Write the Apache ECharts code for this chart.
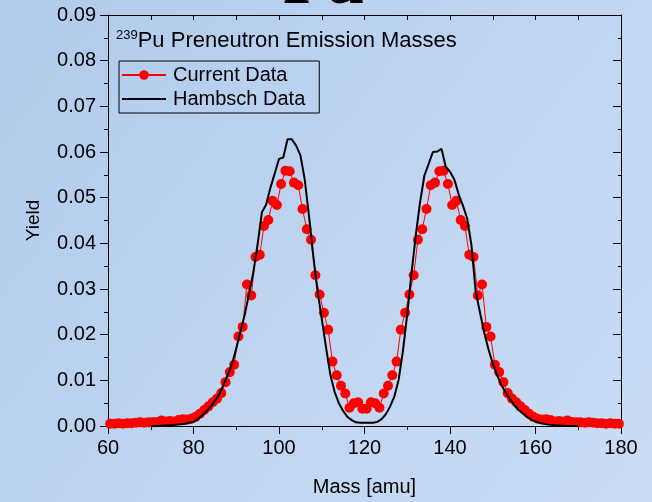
<!DOCTYPE html>
<html>
<head>
<meta charset="utf-8">
<script src="https://cdn.jsdelivr.net/npm/echarts@6/dist/echarts.min.js"></script>
<style>
  html, body { margin: 0; padding: 0; }
  #chart { width: 652px; height: 502px; }
</style>
</head>
<body>
<div id="chart"></div>
<script>
// Pre-neutron-emission fragment mass yields for 239Pu

// Current data: mass bin centres [amu]
const massCurrent = [
  60.5, 61.5, 62.5, 63.5, 64.5, 65.5, 66.5, 67.5, 68.5, 69.5,
  70.5, 71.5, 72.5, 73.5, 74.5, 75.5, 76.5, 77.5, 78.5, 79.5,
  80.5, 81.5, 82.5, 83.5, 84.5, 85.5, 86.5, 87.5, 88.5, 89.5,
  90.5, 91.5, 92.5, 93.5, 94.5, 95.5, 96.5, 97.5, 98.5, 99.5,
  100.5, 101.5, 102.5, 103.5, 104.5, 105.5, 106.5, 107.5, 108.5, 109.5,
  110.5, 111.5, 112.5, 113.5, 114.5, 115.5, 116.5, 117.5, 118.5, 119.5,
  120.5, 121.5, 122.5, 123.5, 124.5, 125.5, 126.5, 127.5, 128.5, 129.5,
  130.5, 131.5, 132.5, 133.5, 134.5, 135.5, 136.5, 137.5, 138.5, 139.5,
  140.5, 141.5, 142.5, 143.5, 144.5, 145.5, 146.5, 147.5, 148.5, 149.5,
  150.5, 151.5, 152.5, 153.5, 154.5, 155.5, 156.5, 157.5, 158.5, 159.5,
  160.5, 161.5, 162.5, 163.5, 164.5, 165.5, 166.5, 167.5, 168.5, 169.5,
  170.5, 171.5, 172.5, 173.5, 174.5, 175.5, 176.5, 177.5, 178.5, 179.5
];

// Current data: yields
const yieldCurrent = [
  0.0005, 0.0005, 0.0006, 0.0005, 0.0006, 0.0006, 0.0007, 0.0008, 0.0007, 0.0008,
  0.0008, 0.0009, 0.0012, 0.0010, 0.0011, 0.0010, 0.0013, 0.0015, 0.0014, 0.0016,
  0.0020, 0.0027, 0.0035, 0.0043, 0.0052, 0.0060, 0.0072, 0.0096, 0.0118, 0.0134,
  0.0196, 0.0217, 0.0310, 0.0286, 0.0370, 0.0375, 0.0438, 0.0451, 0.0493, 0.0484,
  0.0530, 0.0559, 0.0558, 0.0533, 0.0527, 0.0475, 0.0431, 0.0408, 0.0330, 0.0288,
  0.0248, 0.0211, 0.0141, 0.0111, 0.0088, 0.0071, 0.0040, 0.0050, 0.0052, 0.0038,
  0.0038, 0.0052, 0.0050, 0.0040, 0.0071, 0.0088, 0.0111, 0.0141, 0.0211, 0.0248,
  0.0288, 0.0330, 0.0408, 0.0431, 0.0475, 0.0527, 0.0533, 0.0558, 0.0559, 0.0530,
  0.0484, 0.0493, 0.0451, 0.0438, 0.0375, 0.0370, 0.0286, 0.0310, 0.0217, 0.0196,
  0.0134, 0.0118, 0.0096, 0.0072, 0.0060, 0.0052, 0.0043, 0.0035, 0.0027, 0.0020,
  0.0016, 0.0014, 0.0015, 0.0013, 0.0010, 0.0011, 0.0010, 0.0012, 0.0009, 0.0008,
  0.0008, 0.0007, 0.0008, 0.0007, 0.0006, 0.0006, 0.0005, 0.0006, 0.0005, 0.0005
];

// Hambsch data: masses [amu]
const massHambsch = [
  70, 71, 72, 73, 74, 75, 76, 77, 78, 79,
  80, 81, 82, 83, 84, 85, 86, 87, 88, 89,
  90, 91, 92, 93, 94, 95, 96, 97, 98, 99,
  100, 101, 102, 103, 104, 105, 106, 107, 108, 109,
  110, 111, 112, 113, 114, 115, 116, 117, 118, 119,
  120, 121, 122, 123, 124, 125, 126, 127, 128, 129,
  130, 131, 132, 133, 134, 135, 136, 137, 138, 139,
  140, 141, 142, 143, 144, 145, 146, 147, 148, 149,
  150, 151, 152, 153, 154, 155, 156, 157, 158, 159,
  160, 161, 162, 163, 164, 165, 166, 167, 168, 169,
  170
];

// Hambsch data: yields
const yieldHambsch = [
  0.0000, 0.0000, 0.0000, 0.0001, 0.0001, 0.0002, 0.0003, 0.0004, 0.0005, 0.0007,
  0.0009, 0.0015, 0.0023, 0.0032, 0.0042, 0.0055, 0.0069, 0.0090, 0.0112, 0.0135,
  0.0170, 0.0208, 0.0244, 0.0290, 0.0337, 0.0398, 0.0468, 0.0485, 0.0522, 0.0553,
  0.0585, 0.0588, 0.0628, 0.0628, 0.0614, 0.0593, 0.0541, 0.0461, 0.0374, 0.0296,
  0.0235, 0.0172, 0.0113, 0.0075, 0.0050, 0.0033, 0.0020, 0.0013, 0.0008, 0.0007,
  0.0007, 0.0007, 0.0007, 0.0009, 0.0015, 0.0026, 0.0043, 0.0065, 0.0102, 0.0165,
  0.0245, 0.0335, 0.0418, 0.0490, 0.0548, 0.0574, 0.0600, 0.0601, 0.0607, 0.0568,
  0.0557, 0.0540, 0.0508, 0.0483, 0.0455, 0.0397, 0.0295, 0.0249, 0.0205, 0.0168,
  0.0137, 0.0112, 0.0090, 0.0074, 0.0059, 0.0046, 0.0035, 0.0028, 0.0020, 0.0014,
  0.0010, 0.0007, 0.0005, 0.0003, 0.0002, 0.0001, 0.0001, 0.0000, 0.0000, 0.0000,
  0.0000
];

// Axis ticks
const xTicks = [60, 80, 100, 120, 140, 160, 180];
const yTicks = [0.00, 0.01, 0.02, 0.03, 0.04, 0.05, 0.06, 0.07, 0.08, 0.09];

const FONT = "'Liberation Sans', Arial, sans-serif";
const INK = '#000000';

const chart = echarts.init(document.getElementById('chart'), null, { renderer: 'canvas' });

const baseX = {
  type: 'value',
  min: xTicks[0],
  max: xTicks[xTicks.length - 1],
  interval: xTicks[1] - xTicks[0],
  splitLine: { show: false },
  axisLine: { show: true, onZero: false, lineStyle: { color: INK, width: 1 } }
};
const baseY = {
  type: 'value',
  min: yTicks[0],
  max: yTicks[yTicks.length - 1],
  interval: yTicks[1] - yTicks[0],
  splitLine: { show: false },
  axisLine: { show: true, onZero: false, lineStyle: { color: INK, width: 1 } }
};

chart.setOption({
  animation: false,
  backgroundColor: new echarts.graphic.LinearGradient(0, 0, 1, 1, [
    { offset: 0, color: '#b1cbec' },
    { offset: 1, color: '#cbddf5' }
  ]),
  textStyle: { fontFamily: FONT, color: INK },
  grid: { left: 108, right: 31, top: 15, bottom: 73, containLabel: false },
  title: {
    left: 116,
    top: 29,
    padding: 0,
    text: '{sup|239}{main|Pu Preneutron Emission Masses}',
    textStyle: {
      fontWeight: 'normal',
      rich: {
        sup: { fontFamily: FONT, fontSize: 13, fontWeight: 'normal', color: INK, verticalAlign: 'top', lineHeight: 24 },
        main: { fontFamily: FONT, fontSize: 22, fontWeight: 'normal', color: INK, lineHeight: 24 }
      }
    }
  },
  legend: {
    left: 119,
    top: 61,
    orient: 'vertical',
    padding: [4, 14, 4, 2],
    itemGap: 4,
    itemWidth: 44,
    itemHeight: 12,
    borderColor: INK,
    borderWidth: 1,
    backgroundColor: 'transparent',
    textStyle: { fontFamily: FONT, fontSize: 20, color: INK, padding: [0, 0, 0, 2] },
    data: [
      'Current Data',
      { name: 'Hambsch Data', itemStyle: { opacity: 0 } }
    ]
  },
  graphic: [
    {
      type: 'text',
      left: 283,
      top: -50,
      silent: true,
      style: {
        text: 'Pu',
        fontFamily: "'Liberation Serif', 'DejaVu Serif', serif",
        fontWeight: 'bold',
        fontSize: 70,
        fill: INK
      }
    }
  ],
  xAxis: [
    Object.assign({}, baseX, {
      position: 'bottom',
      name: 'Mass [amu]',
      nameLocation: 'middle',
      nameGap: 51,
      nameTextStyle: { fontFamily: FONT, fontSize: 20, color: INK },
      axisTick: { show: true, inside: false, length: 8, lineStyle: { color: INK, width: 1 } },
      minorTick: { show: true, splitNumber: 2, length: 4, lineStyle: { color: INK, width: 1 } },
      axisLabel: { show: true, fontFamily: FONT, fontSize: 20, color: INK, margin: 12 }
    }),
    Object.assign({}, baseX, {
      position: 'top',
      axisTick: { show: true, inside: true, length: 5, lineStyle: { color: INK, width: 1 } },
      minorTick: { show: true, splitNumber: 2, length: 5, lineStyle: { color: INK, width: 1 } },
      axisLabel: { show: false }
    })
  ],
  yAxis: [
    Object.assign({}, baseY, {
      position: 'left',
      name: 'Yield',
      nameLocation: 'middle',
      nameGap: 65,
      nameRotate: 90,
      nameTextStyle: { fontFamily: FONT, fontSize: 19, color: INK },
      axisTick: { show: true, inside: false, length: 8, lineStyle: { color: INK, width: 1 } },
      minorTick: { show: true, splitNumber: 2, length: 4, lineStyle: { color: INK, width: 1 } },
      axisLabel: {
        show: true, fontFamily: FONT, fontSize: 20, color: INK, margin: 12,
        formatter: v => v.toFixed(2)
      }
    }),
    Object.assign({}, baseY, {
      position: 'right',
      axisTick: { show: true, inside: true, length: 8, lineStyle: { color: INK, width: 1 } },
      minorTick: { show: true, splitNumber: 2, length: 3, lineStyle: { color: INK, width: 1 } },
      axisLabel: { show: false }
    })
  ],
  series: [
    {
      name: 'Current Data',
      type: 'line',
      xAxisIndex: 0,
      yAxisIndex: 0,
      data: massCurrent.map((m, i) => [m, yieldCurrent[i]]),
      symbol: 'circle',
      symbolSize: 10,
      showAllSymbol: true,
      lineStyle: { color: '#ff0000', width: 1 },
      itemStyle: { color: '#ff0000', borderWidth: 0 },
      emphasis: { disabled: true },
      z: 2
    },
    {
      name: 'Hambsch Data',
      type: 'line',
      xAxisIndex: 0,
      yAxisIndex: 0,
      data: massHambsch.map((m, i) => [m, yieldHambsch[i]]),
      symbol: 'none',
      lineStyle: { color: INK, width: 2 },
      itemStyle: { color: INK },
      emphasis: { disabled: true },
      z: 3
    }
  ]
});
</script>
</body>
</html>
